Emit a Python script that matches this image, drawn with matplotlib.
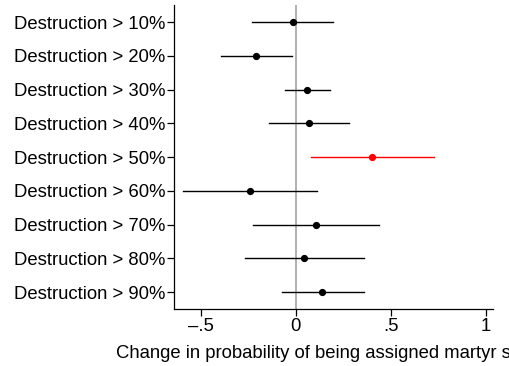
import numpy as np
import matplotlib.pyplot as plt

# Coefficients and 95% intervals
labels = ["Destruction > 10%", "Destruction > 20%", "Destruction > 30%",
          "Destruction > 40%", "Destruction > 50%", "Destruction > 60%",
          "Destruction > 70%", "Destruction > 80%", "Destruction > 90%"]
estimates = [-0.017, -0.210, 0.061, 0.070, 0.403, -0.244, 0.105, 0.044, 0.139]
ci_low = [-0.233, -0.393, -0.056, -0.140, 0.077, -0.593, -0.228, -0.270, -0.075]
ci_high = [0.198, -0.023, 0.182, 0.282, 0.728, 0.109, 0.439, 0.360, 0.360]
highlight = [False, False, False, False, True, False, False, False, False]

xticks = [-0.5, 0, 0.5, 1]
xtick_labels = ["\u2013.5", "0", ".5", "1"]

plt.rcParams['font.family'] = ['Liberation Sans', 'DejaVu Sans']
fs = 13.3

fig = plt.figure(figsize=(5.09, 3.66), dpi=100)
ax = fig.add_axes([0.342, 0.156, 0.626, 0.830])

ypos = np.arange(1, len(labels) + 1)
ax.axvline(0, color='#b0b0b0', lw=1.4, zorder=1)

for y, est, lo, hi, hl in zip(ypos, estimates, ci_low, ci_high, highlight):
    col = 'red' if hl else 'black'
    ax.plot([lo, hi], [y, y], color=col, lw=1.0, zorder=2)
    ax.plot(est, y, 'o', color=col, ms=4.2, zorder=3)

ax.set_yticks(ypos)
ax.set_yticklabels(labels, fontsize=fs)
ax.set_ylim(9.5, 0.5)
ax.set_xlim(-0.642, 1.037)
ax.set_xticks(xticks)
ax.set_xticklabels(xtick_labels, fontsize=fs)
ax.tick_params(axis='both', direction='out', length=5, width=0.9, pad=1.5)

for s in ['top', 'right']:
    ax.spines[s].set_visible(False)
for s in ['left', 'bottom']:
    ax.spines[s].set_linewidth(0.9)

# the reference label runs past the right edge of the figure as well
ax.set_xlabel("Change in probability of being assigned martyr status", fontsize=fs, labelpad=7)

fig.savefig('out.png', dpi=100)
